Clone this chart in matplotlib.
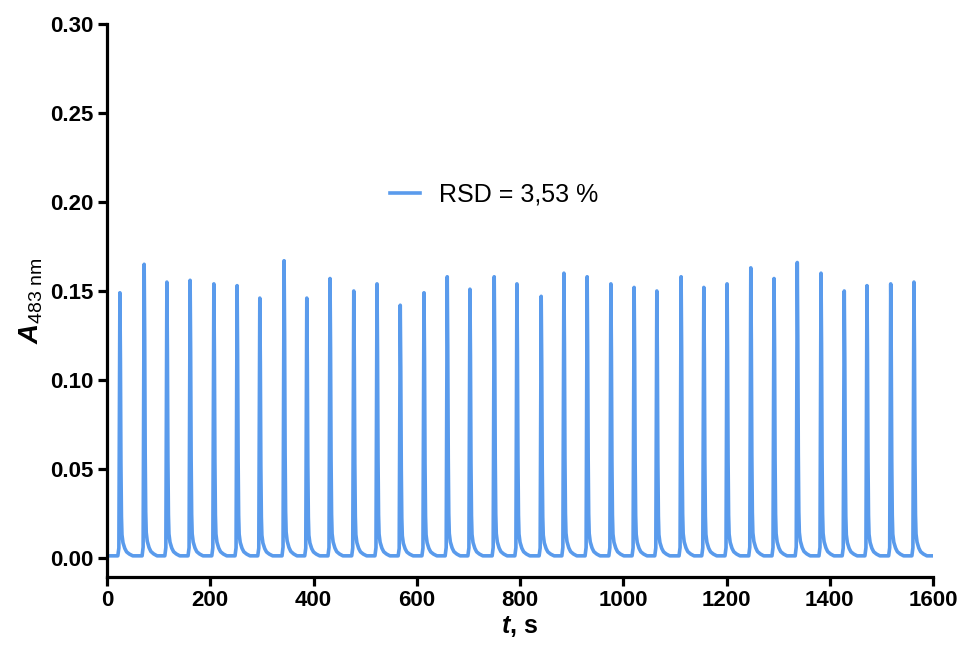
import numpy as np
import matplotlib
matplotlib.use("Agg")
import matplotlib.pyplot as plt

plt.rcParams['font.family'] = ['Liberation Sans', 'DejaVu Sans']
plt.rcParams['mathtext.fontset'] = 'custom'
plt.rcParams['mathtext.it'] = 'Liberation Sans:italic:bold'
plt.rcParams['mathtext.rm'] = 'Liberation Sans'
plt.rcParams['mathtext.bf'] = 'Liberation Sans:bold'

# injection times (s) and peak absorbances
peak_t = [25, 72, 116, 161, 207, 252, 296, 343, 387, 432, 478, 523, 568, 614,
          659, 703, 750, 794, 841, 885, 930, 976, 1021, 1065, 1112, 1156,
          1201, 1247, 1292, 1337, 1383, 1428, 1472, 1518, 1563]
peak_a = [0.149, 0.165, 0.155, 0.156, 0.154, 0.153, 0.146, 0.167, 0.146, 0.157,
          0.150, 0.154, 0.142, 0.149, 0.158, 0.151, 0.158, 0.154, 0.147, 0.160,
          0.158, 0.154, 0.152, 0.150, 0.158, 0.152, 0.154, 0.163, 0.157, 0.166,
          0.160, 0.150, 0.153, 0.154, 0.155]

# shape of one peak (offset in s, fraction of peak height)
prof_t = [-4, -2, -1, 0, 1, 2, 3, 4, 6, 9, 13, 18, 25]
prof_v = [0, 0.03, 0.5, 1.0, 0.75, 0.35, 0.15, 0.08, 0.05, 0.03, 0.015, 0.007, 0]
baseline = 0.0012

t = np.arange(0, 1600.5, 0.5)
a = np.full_like(t, baseline)
for tp, ap in zip(peak_t, peak_a):
    a += (ap - baseline) * np.interp(t - tp, prof_t, prof_v, left=0, right=0)

fig = plt.figure(figsize=(9.63, 6.45), dpi=100)
ax = fig.add_axes([0.1111, 0.1054, 0.8578, 0.8574])
ax.plot(t, a, color='#5a9bec', linewidth=2.6, label='RSD = 3,53 %')

ax.set_xlim(0, 1600)
ax.set_ylim(-0.0107, 0.30)
ax.set_xticks(np.arange(0, 1601, 200))
ax.set_yticks(np.arange(0, 0.301, 0.05))
ax.set_yticklabels(['%.2f' % v for v in np.arange(0, 0.301, 0.05)])

for s in ['top', 'right']:
    ax.spines[s].set_visible(False)
for s in ['left', 'bottom']:
    ax.spines[s].set_linewidth(2.3)
ax.tick_params(axis='both', direction='out', length=6.5, width=2.3, labelsize=16, pad=3)
for lab in ax.get_xticklabels() + ax.get_yticklabels():
    lab.set_fontweight('bold')

ax.set_xlabel(r'$\mathit{t}$, s', fontsize=18, fontweight='bold', labelpad=2)
ax.set_ylabel(r'$\mathit{A}_{\mathrm{483\ nm}}$', fontsize=20, labelpad=4)

ax.legend(loc='center left', bbox_to_anchor=(0.343, 0.691), frameon=False,
          borderaxespad=0, borderpad=0, fontsize=18, handlelength=1.2,
          handletextpad=0.75)

fig.savefig('out.png', dpi=100)
